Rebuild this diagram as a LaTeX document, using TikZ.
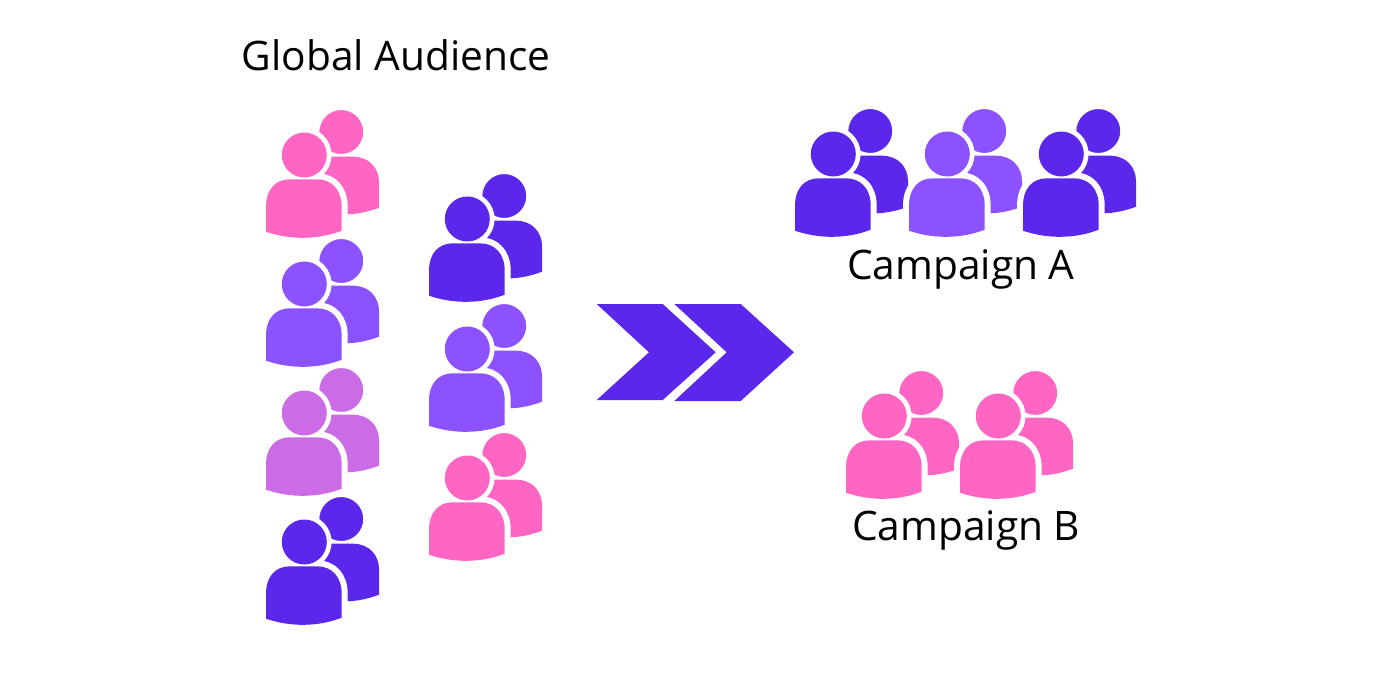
\documentclass[tikz,border=0pt]{standalone}
\usepackage{fontspec}
\setmainfont{Open Sans}
\definecolor{cpink}{HTML}{FF66C4}
\definecolor{cdeep}{HTML}{5B27EA}
\definecolor{clight}{HTML}{8C52FF}
\definecolor{corchid}{HTML}{CB6CE6}
\tikzset{
  label text/.style={font=\fontsize{30.5}{36}\selectfont, text=black, inner sep=0pt, anchor=base west},
  chevron/.style={fill=cdeep, draw=none},
  pics/people/.style={code={
    % back person
    \fill[#1] (56,46.7) -- (87,46.7) .. controls (103,46.7) and (113,58) .. (113,72)
       -- (113,97.7) .. controls (103,101.5) and (92,104) .. (81.7,104.3) -- (56,104.3) -- cycle;
    \fill[#1, draw=white, line width=1.5pt] (75.3,22) circle [radius=23];
    % halo of the front person
    \fill[white] (38.3,45) circle [radius=27.3];
    \draw[white, fill=white, line width=9pt, line join=round]
      (0,96.7) .. controls (0,80) and (9,69.3) .. (24,69.3)
      -- (51,69.3) .. controls (66,69.3) and (75.7,80) .. (75.7,96.7) -- (75.7,120) -- (0,120) -- cycle;
    % front person
    \fill[#1] (38.3,45) circle [radius=22.5];
    \fill[#1] (0,121.7) -- (0,96.7) .. controls (0,80) and (9,69.3) .. (24,69.3)
      -- (51,69.3) .. controls (66,69.3) and (75.7,80) .. (75.7,96.7) -- (75.7,120.7)
      .. controls (52,130) and (24,130) .. (0,121.7) -- cycle;
  }}
}
\begin{document}
\begin{tikzpicture}[x=0.75pt,y=-0.75pt]
  \useasboundingbox (0,0) rectangle (1400,678);
  \fill[white] (0,0) rectangle (1400,678);

  \node[label text] (global) at (241.5,70) {Global Audience};
  \node[label text] (campA) at (847,279) {Campaign A};
  \node[label text] (campB) at (852,540) {Campaign B};

  % left column
  \pic at (266,110) {people=cpink};
  \pic at (266,239) {people=clight};
  \pic at (266,368) {people=corchid};
  \pic at (266,497) {people=cdeep};
  % right column
  \pic at (429,174) {people=cdeep};
  \pic at (429,304) {people=clight};
  \pic at (429,433) {people=cpink};
  % Campaign A
  \pic at (795,109) {people=cdeep};
  \pic at (909,109) {people=clight};
  \pic at (1023,109) {people=cdeep};
  % Campaign B
  \pic at (846,371) {people=cpink};
  \pic at (960,371) {people=cpink};

  % chevrons
  \fill[chevron] (596.7,304) -- (662.7,304) -- (715.7,352.3) -- (662.7,400) -- (596.7,400) -- (649,352.3) -- cycle;
  \fill[chevron] (674.3,304) -- (740.7,304) -- (794,352.3) -- (740.7,401) -- (674.3,401) -- (726.7,352.3) -- cycle;
\end{tikzpicture}
\end{document}
